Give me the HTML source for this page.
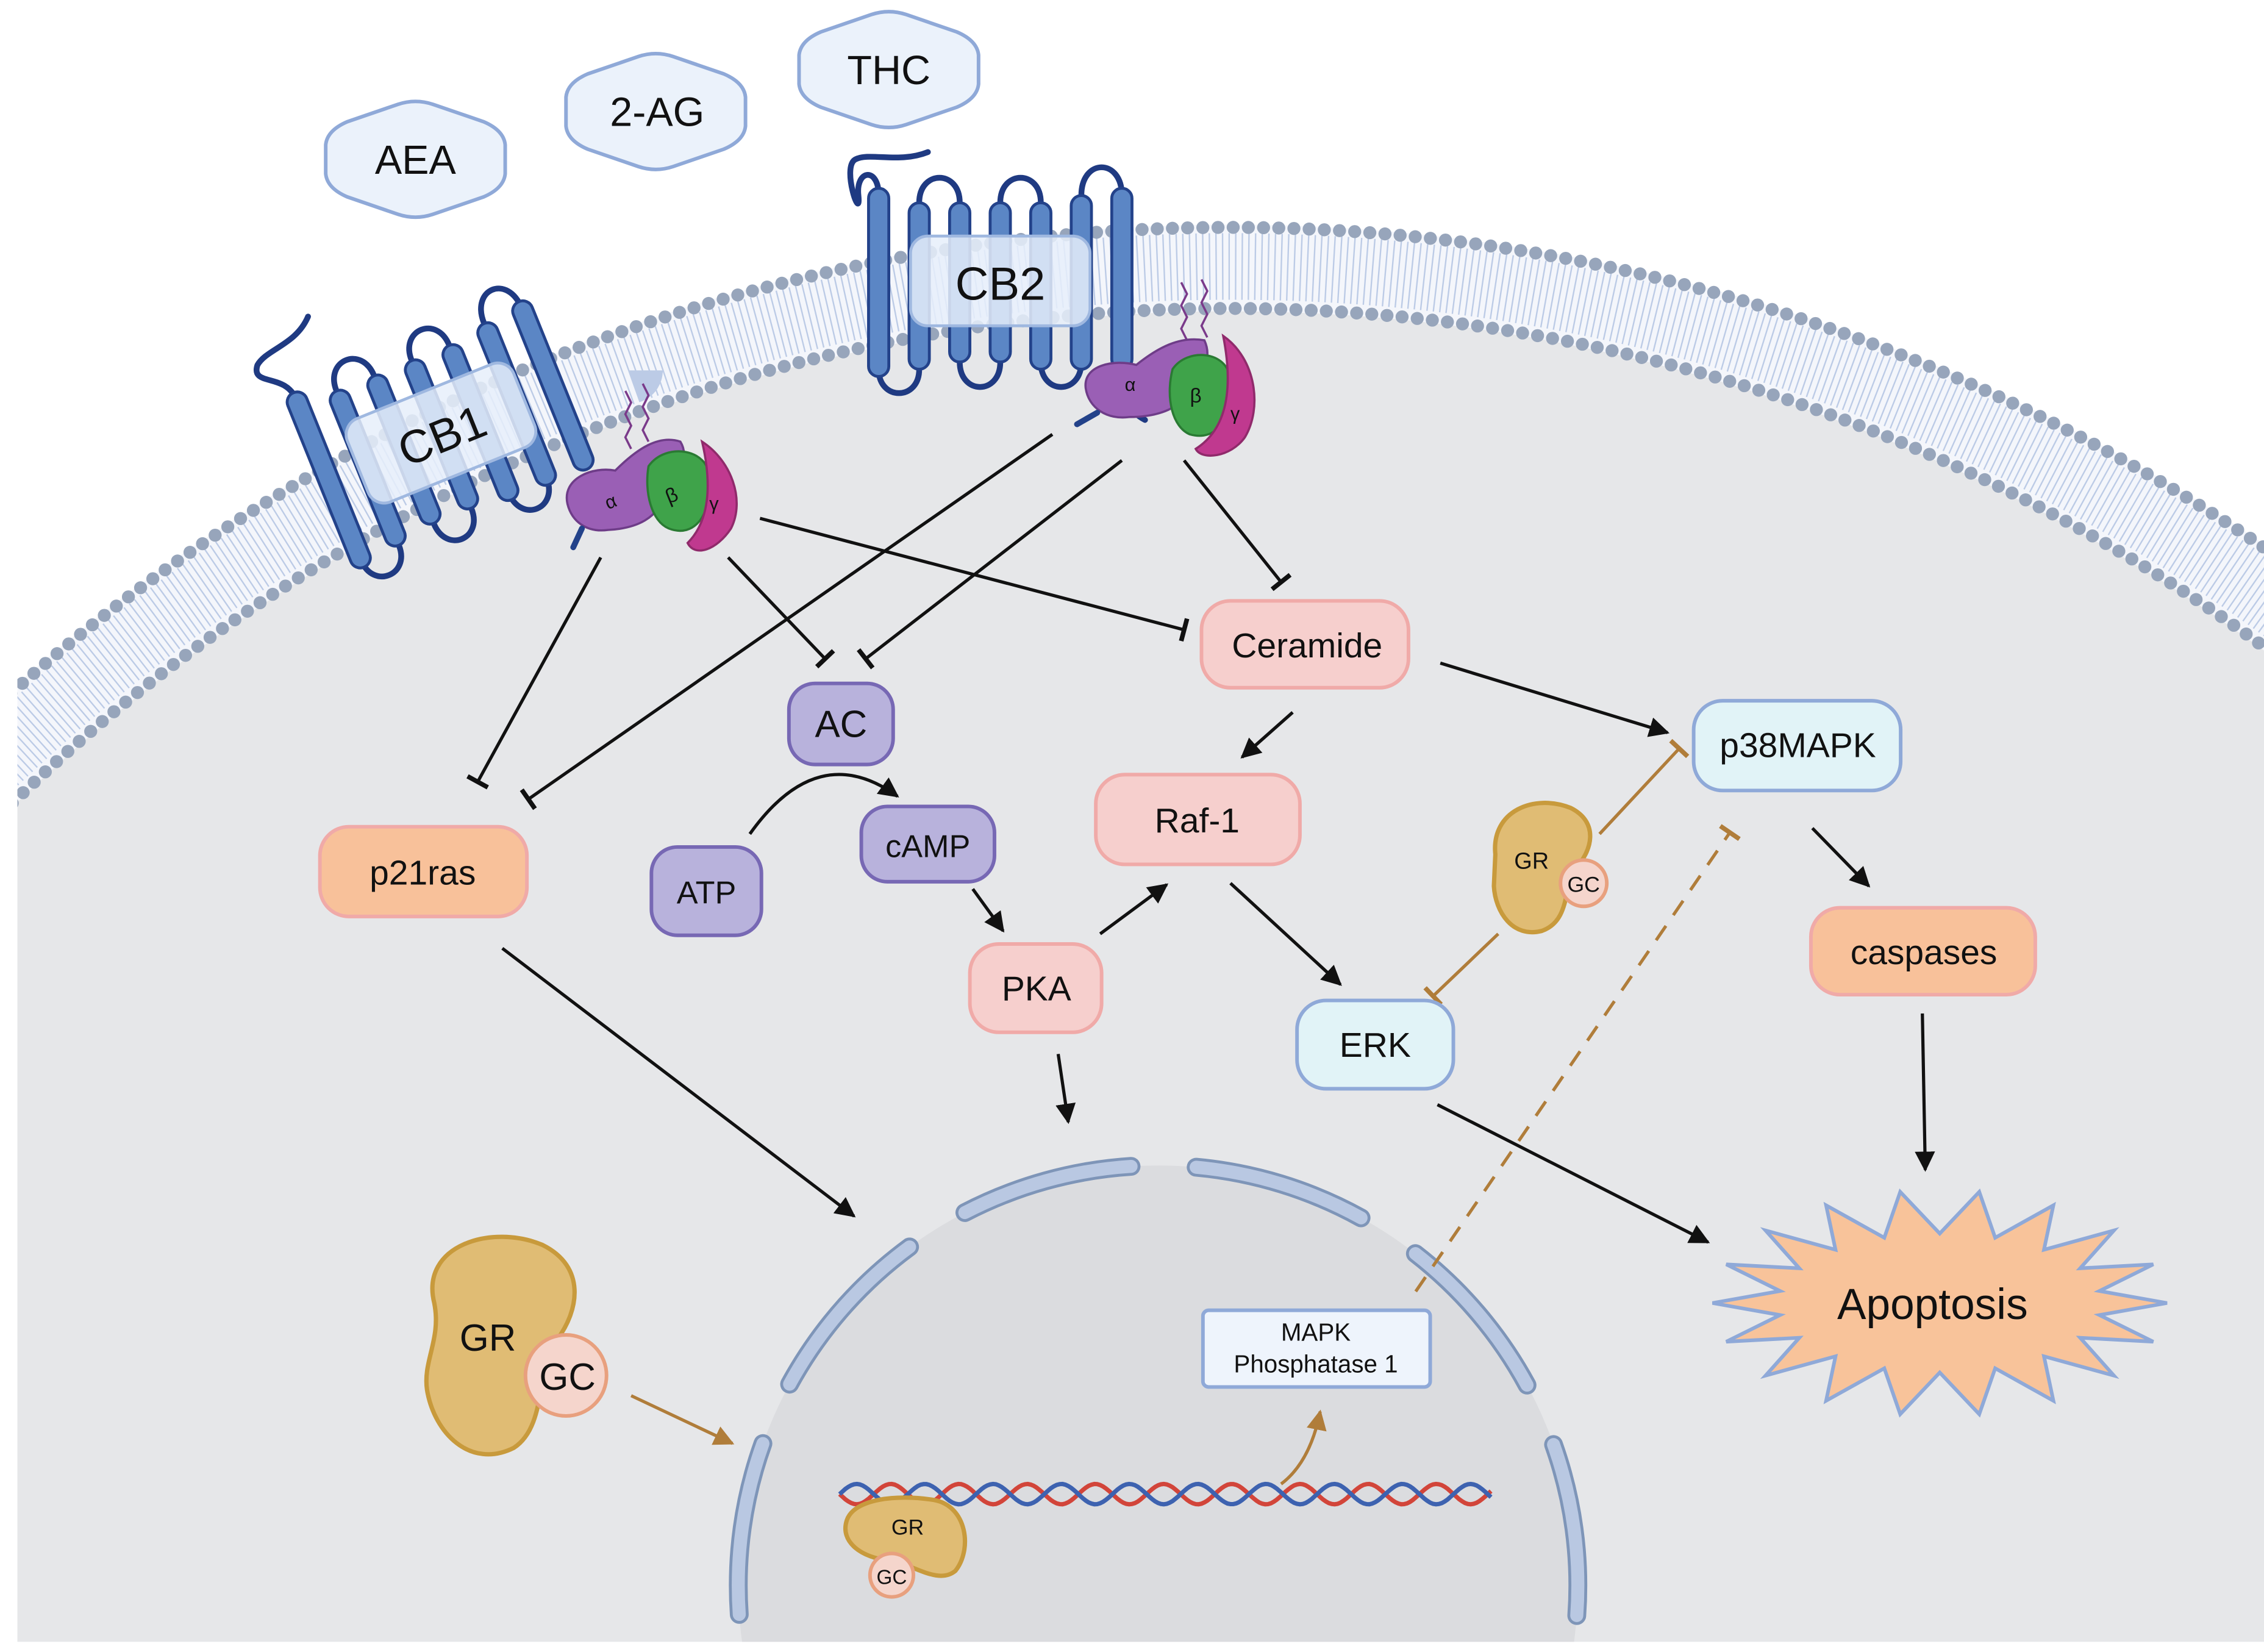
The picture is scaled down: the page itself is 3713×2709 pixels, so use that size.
<!DOCTYPE html>
<html><head><meta charset="utf-8"><style>
html,body{margin:0;padding:0;background:#fff;overflow:hidden;width:3713px;height:2709px}
svg{display:block}
text{font-family:"Liberation Sans",sans-serif;fill:#111}
</style></head><body>
<svg id="s" width="3713" height="2709" viewBox="0 0 1564 1141" xmlns="http://www.w3.org/2000/svg">
<defs>
<marker id="arb" viewBox="0 0 10 10" refX="9" refY="5" markerWidth="14" markerHeight="14" orient="auto" markerUnits="userSpaceOnUse"><path d="M0,0L10,5L0,10z" fill="#111"/></marker>
<marker id="arbr" viewBox="0 0 10 10" refX="9" refY="5" markerWidth="14" markerHeight="14" orient="auto" markerUnits="userSpaceOnUse"><path d="M0,0L10,5L0,10z" fill="#b07d3a"/></marker>
<marker id="tb" viewBox="0 0 4 20" refX="2" refY="10" markerWidth="4" markerHeight="16" orient="auto" markerUnits="userSpaceOnUse"><rect x="0" y="0" width="4" height="20" fill="#111"/></marker>
<marker id="tbr" viewBox="0 0 4 20" refX="2" refY="10" markerWidth="4" markerHeight="16" orient="auto" markerUnits="userSpaceOnUse"><rect x="0" y="0" width="4" height="20" fill="#b07d3a"/></marker>
<clipPath id="cl"><rect x="12" y="0" width="1552" height="1134"/></clipPath>
</defs>
<rect width="1564" height="1141" fill="#fff"/>
<g clip-path="url(#cl)">
<circle cx="850" cy="1420" r="1265" fill="#f4f6fb"/>
<circle cx="850" cy="1420" r="1236" fill="none" stroke="#bccbe6" stroke-width="46" stroke-dasharray="1 3.5"/>
<circle cx="850" cy="1420" r="1205" fill="#e6e7e9"/>
<circle cx="850" cy="1420" r="1263" fill="none" stroke="#97a5bb" stroke-width="9" stroke-linecap="round" stroke-dasharray="0 10.5"/>
<circle cx="850" cy="1420" r="1207" fill="none" stroke="#97a5bb" stroke-width="9" stroke-linecap="round" stroke-dasharray="0 10.5"/>
<circle cx="800" cy="1095" r="290" fill="#dbdcdf"/>
<circle cx="800" cy="1095" r="290" fill="none" stroke="#7e95b8" stroke-width="13" stroke-dasharray="120 45" stroke-linecap="round" transform="rotate(-150 800 1095)"/>
<circle cx="800" cy="1095" r="290" fill="none" stroke="#b9c8e2" stroke-width="9" stroke-dasharray="120 45" stroke-linecap="round" transform="rotate(-150 800 1095)"/>
</g>
<g stroke="#8fa9d8" stroke-width="2.5" fill="#ebf2fb">
<path d="M225,100 Q226,90 240,84 L275,72 Q287,68 299,72 L334,84 Q348,90 349,100 L349,120 Q348,130 334,136 L299,148 Q287,152 275,148 L240,136 Q226,130 225,120z"/>
<path d="M391,67 Q392,57 406,51 L441,39 Q453,35 465,39 L500,51 Q514,57 515,67 L515,87 Q514,97 500,103 L465,115 Q453,119 441,115 L406,103 Q392,97 391,87z"/>
<path d="M552,38 Q553,28 567,22 L602,10 Q614,6 626,10 L661,22 Q675,28 676,38 L676,58 Q675,68 661,74 L626,86 Q614,90 602,86 L567,74 Q553,68 552,58z"/>
</g>
<text x="287" y="120" font-size="28" text-anchor="middle">AEA</text>
<text x="454" y="87" font-size="28" text-anchor="middle">2-AG</text>
<text x="614" y="58" font-size="28" text-anchor="middle">THC</text>

<g transform="translate(691,195)">
<g fill="none" stroke="#1f3a82" stroke-width="4" stroke-linecap="round">
<path d="M-84,-60 C-84,-80 -100,-78 -98,-60 C-96,-40 -110,-80 -100,-85 C-90,-90 -70,-82 -50,-90"/>
<path d="M-56,-55 C-56,-78 -28,-78 -28,-55"/>
<path d="M0,-55 C0,-78 28,-78 28,-55"/>
<path d="M56,-60 C56,-86 84,-86 84,-60"/>
<path d="M-84,60 C-84,82 -56,82 -56,60"/>
<path d="M-28,55 C-28,78 0,78 0,55"/>
<path d="M28,55 C28,78 56,78 56,55"/>
<path d="M84,60 C84,80 90,90 100,95"/>
</g>
<g fill="#5b86c5" stroke="#23428a" stroke-width="2">
<rect x="-91" y="-65" width="14" height="130" rx="7"/>
<rect x="-63" y="-55" width="14" height="115" rx="7"/>
<rect x="-35" y="-55" width="14" height="110" rx="7"/>
<rect x="-7" y="-55" width="14" height="110" rx="7"/>
<rect x="21" y="-55" width="14" height="115" rx="7"/>
<rect x="49" y="-60" width="14" height="120" rx="7"/>
<rect x="77" y="-65" width="14" height="125" rx="7"/>
</g>
<rect x="-62" y="-32" width="124" height="62" rx="12" fill="#e6eefa" fill-opacity="0.85" stroke="#9fb8e0" stroke-width="2"/>
<text x="0" y="12" font-size="32" text-anchor="middle">CB2</text>
</g>
<g transform="translate(305,300) rotate(-22)">
<g fill="none" stroke="#1f3a82" stroke-width="4" stroke-linecap="round">
<path d="M-84,-60 C-84,-80 -110,-80 -100,-92 C-90,-100 -70,-95 -55,-110"/>
<path d="M-56,-55 C-56,-78 -28,-78 -28,-55"/>
<path d="M0,-55 C0,-78 28,-78 28,-55"/>
<path d="M56,-60 C56,-86 84,-86 84,-60"/>
<path d="M-84,60 C-84,82 -56,82 -56,60"/>
<path d="M-28,55 C-28,78 0,78 0,55"/>
<path d="M28,55 C28,78 56,78 56,55"/>
</g>
<g fill="#5b86c5" stroke="#23428a" stroke-width="2">
<rect x="-91" y="-65" width="14" height="130" rx="7"/>
<rect x="-63" y="-55" width="14" height="115" rx="7"/>
<rect x="-35" y="-55" width="14" height="110" rx="7"/>
<rect x="-7" y="-55" width="14" height="110" rx="7"/>
<rect x="21" y="-55" width="14" height="115" rx="7"/>
<rect x="49" y="-60" width="14" height="120" rx="7"/>
<rect x="77" y="-65" width="14" height="125" rx="7"/>
</g>
<rect x="-62" y="-32" width="124" height="62" rx="12" fill="#e6eefa" fill-opacity="0.85" stroke="#9fb8e0" stroke-width="2"/>
<text x="0" y="12" font-size="32" text-anchor="middle">CB1</text>
</g>
<g>
<path d="M432,270 l4,8 l-4,8 l4,8 l-4,8 l4,8 M444,265 l4,8 l-4,8 l4,8 l-4,8 l4,8" fill="none" stroke="#7a3a8a" stroke-width="1.5"/>
<path d="M392,348 C388,330 410,322 425,325 C440,310 455,300 470,305 C478,318 465,330 460,340 C455,358 440,365 420,366 C405,368 395,360 392,348z" fill="#9a5fb5" stroke="#6e3c88" stroke-width="1.5"/>
<path d="M402,365 L396,378" stroke="#23428a" stroke-width="4" stroke-linecap="round"/>
<path d="M448,322 C460,305 490,310 490,330 C492,355 480,372 462,365 C450,360 445,340 448,322z" fill="#3fa34a" stroke="#2a7a33" stroke-width="1.5"/>
<path d="M485,305 C505,318 515,345 505,365 C495,380 480,385 475,375 C490,360 492,335 485,305z" fill="#c0398f" stroke="#902a6b" stroke-width="1.5"/>
<text x="420" y="352" font-size="13" transform="rotate(-22 420 352)">α</text>
<text x="462" y="348" font-size="14" transform="rotate(-22 462 348)">β</text>
<text x="490" y="352" font-size="13">γ</text>
</g>
<g>
<path d="M816,195 l4,8 l-4,8 l4,8 l-4,8 l4,8 M830,193 l4,8 l-4,8 l4,8 l-4,8 l4,8" fill="none" stroke="#7a3a8a" stroke-width="1.5"/>
<path d="M750,268 C748,252 770,248 785,252 C800,240 815,232 832,235 C838,248 830,258 823,266 C818,282 800,288 780,288 C765,290 752,282 750,268z" fill="#9a5fb5" stroke="#6e3c88" stroke-width="1.5"/>
<path d="M758,285 L744,293" stroke="#23428a" stroke-width="4" stroke-linecap="round"/>
<path d="M810,255 C820,240 848,242 850,262 C852,290 840,305 822,300 C810,295 805,275 810,255z" fill="#3fa34a" stroke="#2a7a33" stroke-width="1.5"/>
<path d="M845,232 C868,248 872,282 860,302 C850,316 830,318 826,310 C848,296 852,268 845,232z" fill="#c0398f" stroke="#902a6b" stroke-width="1.5"/>
<text x="777" y="270" font-size="13">α</text>
<text x="822" y="278" font-size="14">β</text>
<text x="850" y="290" font-size="13">γ</text>
</g>

<g stroke="#111" stroke-width="2.2" fill="none">
<line x1="415" y1="385" x2="330" y2="540" marker-end="url(#tb)"/>
<line x1="503" y1="385" x2="570" y2="455" marker-end="url(#tb)"/>
<line x1="525" y1="358" x2="818" y2="435" marker-end="url(#tb)"/>
<line x1="727" y1="300" x2="365" y2="552" marker-end="url(#tb)"/>
<line x1="775" y1="318" x2="598" y2="455" marker-end="url(#tb)"/>
<line x1="818" y1="318" x2="885" y2="402" marker-end="url(#tb)"/>
<line x1="995" y1="458" x2="1152" y2="506" marker-end="url(#arb)"/>
<line x1="893" y1="492" x2="858" y2="523" marker-end="url(#arb)"/>
<path d="M518,576 Q565,510 620,550" marker-end="url(#arb)"/>
<line x1="672" y1="614" x2="693" y2="643" marker-end="url(#arb)"/>
<line x1="760" y1="645" x2="806" y2="611" marker-end="url(#arb)"/>
<line x1="850" y1="610" x2="926" y2="680" marker-end="url(#arb)"/>
<line x1="731" y1="728" x2="738" y2="775" marker-end="url(#arb)"/>
<line x1="347" y1="655" x2="590" y2="840" marker-end="url(#arb)"/>
<line x1="993" y1="763" x2="1180" y2="858" marker-end="url(#arb)"/>
<line x1="1328" y1="700" x2="1330" y2="808" marker-end="url(#arb)"/>
<line x1="1252" y1="572" x2="1291" y2="612" marker-end="url(#arb)"/>
</g>
<g stroke="#b07d3a" stroke-width="2.2" fill="none">
<line x1="1105" y1="576" x2="1160" y2="517" marker-end="url(#tbr)"/>
<line x1="1035" y1="645" x2="990" y2="688" marker-end="url(#tbr)"/>
<line x1="978" y1="892" x2="1195" y2="575" stroke-dasharray="12 9" marker-end="url(#tbr)"/>
<line x1="436" y1="964" x2="506" y2="997" marker-end="url(#arbr)"/>
<path d="M885,1025 Q905,1010 912,975" marker-end="url(#arbr)"/>
</g>

<g stroke-width="2.5">
<rect x="830" y="415" width="143" height="60" rx="20" fill="#f6cfcd" stroke="#f0aaa8"/>
<rect x="545" y="472" width="72" height="56" rx="18" fill="#b8b2dc" stroke="#7768b4"/>
<rect x="450" y="585" width="76" height="61" rx="18" fill="#b8b2dc" stroke="#7768b4"/>
<rect x="595" y="557" width="92" height="52" rx="18" fill="#b8b2dc" stroke="#7768b4"/>
<rect x="670" y="652" width="91" height="61" rx="20" fill="#f6cfcd" stroke="#f0aaa8"/>
<rect x="757" y="535" width="141" height="62" rx="20" fill="#f6cfcd" stroke="#f0aaa8"/>
<rect x="221" y="571" width="143" height="62" rx="20" fill="#f8c19a" stroke="#f0aaa8"/>
<rect x="1170" y="484" width="143" height="62" rx="20" fill="#e1f3f7" stroke="#8fa9d8"/>
<rect x="896" y="691" width="108" height="61" rx="20" fill="#e1f3f7" stroke="#8fa9d8"/>
<rect x="1251" y="627" width="155" height="60" rx="20" fill="#f8c19a" stroke="#f0aaa8"/>
<rect x="831" y="905" width="157" height="53" rx="4" fill="#eef4fc" stroke="#8fa9d8"/>
</g>
<g font-size="24" text-anchor="middle">
<text x="903" y="454">Ceramide</text>
<text x="581" y="509" font-size="26">AC</text>
<text x="488" y="624" font-size="22">ATP</text>
<text x="641" y="592" font-size="22">cAMP</text>
<text x="716" y="691">PKA</text>
<text x="827" y="575">Raf-1</text>
<text x="292" y="611">p21ras</text>
<text x="1242" y="523">p38MAPK</text>
<text x="950" y="730">ERK</text>
<text x="1329" y="666">caspases</text>
<text x="909" y="926" font-size="17">MAPK</text>
<text x="909" y="948" font-size="17">Phosphatase 1</text>
</g>
<polygon id="star" fill="#f8c39a" stroke="#8fa9d8" stroke-width="2.5" points=""/>
<text x="1335" y="911" font-size="30" text-anchor="middle">Apoptosis</text>

<path id="dna1" fill="none" stroke="#d2453a" stroke-width="3"/>
<path id="dna2" fill="none" stroke="#3d62b0" stroke-width="3"/>

<g fill="#e0bc74" stroke="#c89a3c" stroke-width="3">
<path d="M300,900 C290,860 340,845 375,860 C405,875 400,905 385,925 C370,945 378,985 355,1000 C325,1015 300,990 295,960 C292,940 305,925 300,900z"/>
<path d="M1033,590 C1030,560 1060,548 1085,558 C1105,568 1100,588 1088,600 C1080,612 1085,636 1065,643 C1045,648 1033,630 1032,612z"/>
<path d="M585,1050 C590,1035 620,1032 645,1036 C668,1040 672,1070 660,1085 C648,1095 630,1080 615,1078 C595,1076 580,1065 585,1050z"/>
</g>
<g fill="#f5d5cc" stroke="#e8a07e" stroke-width="2.5">
<circle cx="391" cy="950" r="28"/>
<circle cx="1094" cy="610" r="16"/>
<circle cx="616" cy="1088" r="15"/>
</g>
<text x="337" y="933" font-size="26" text-anchor="middle">GR</text>
<text x="392" y="960" font-size="26" text-anchor="middle">GC</text>
<text x="1058" y="600" font-size="16" text-anchor="middle">GR</text>
<text x="1094" y="616" font-size="15" text-anchor="middle">GC</text>
<text x="627" y="1060" font-size="15" text-anchor="middle">GR</text>
<text x="616" y="1094" font-size="14" text-anchor="middle">GC</text>
</svg>
<script>
(function(){
var cx=1340,cy=900,n=18,p=[];
for(var i=0;i<n*2;i++){var a=Math.PI*i/n;var o=i%2==0;var rx=o?157:112,ry=o?78:48;p.push((cx+rx*Math.cos(a)).toFixed(1)+","+(cy+ry*Math.sin(a)).toFixed(1));}
document.getElementById('star').setAttribute('points',p.join(' '));
var d1="",d2="";for(var x=580;x<=1030;x+=2){var y1=1032+7*Math.sin((x-580)/7.5),y2=1032-7*Math.sin((x-580)/7.5);d1+=(x==580?"M":"L")+x+","+y1.toFixed(1);d2+=(x==580?"M":"L")+x+","+y2.toFixed(1);}
document.getElementById('dna1').setAttribute('d',d1);document.getElementById('dna2').setAttribute('d',d2);
})();
</script>
</body></html>
